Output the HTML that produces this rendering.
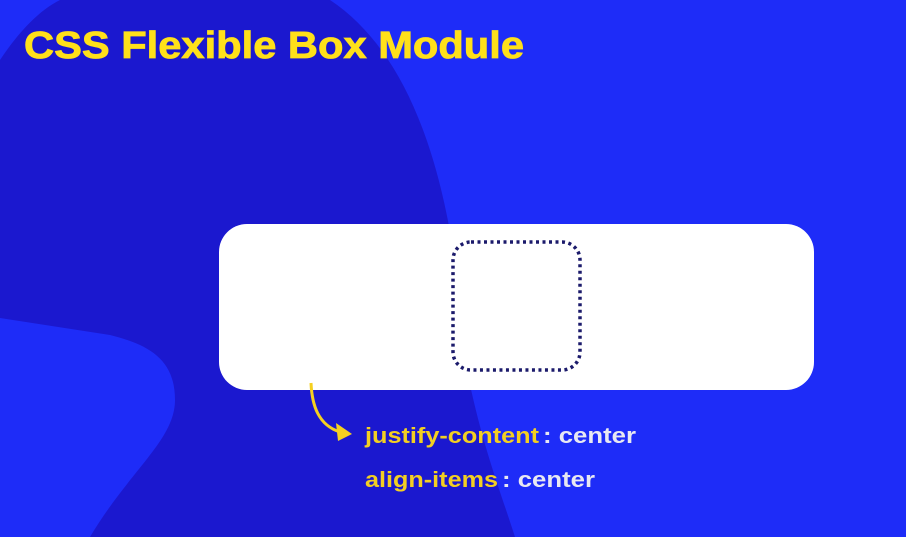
<!DOCTYPE html>
<html><head><style>
html,body{margin:0;padding:0;width:906px;height:537px;overflow:hidden;background:#1e2cf8}
svg{display:block}
text{font-family:"Liberation Sans",sans-serif;font-weight:bold}
</style></head><body>
<svg width="906" height="537" viewBox="0 0 906 537">
<rect width="906" height="537" fill="#1e2cf8"/>
<path d="M60 0 L330 0 C420 60 455 200 465 360 C480 440 500 490 515 537 L90 537 C130 470 175 440 175 400 C175 360 150 345 110 335 L0 318 L0 60 C20 30 40 10 60 0 Z" fill="#1b18cf"/>
<rect x="219" y="224" width="595" height="166" rx="28" fill="#ffffff"/>
<rect x="453" y="242" width="127" height="128" rx="18" fill="none" stroke="#1b1a6b" stroke-width="3.5" stroke-dasharray="3 3.5"/>
<text x="24" y="58" font-size="38" fill="#ffe01a" textLength="500" lengthAdjust="spacingAndGlyphs" stroke="#ffe01a" stroke-width="0.8">CSS Flexible Box Module</text>
<path d="M311 383 C312 405 318 425 340 432" fill="none" stroke="#f5d020" stroke-width="3"/>
<path d="M352 434 L336 423 L338 441 Z" fill="#f5d020"/>
<text x="365" y="443" font-size="22" fill="#f3cf22" textLength="174" lengthAdjust="spacingAndGlyphs">justify-content</text>
<text x="543" y="443" font-size="22" fill="#e8e8f2" textLength="93" lengthAdjust="spacingAndGlyphs">: center</text>
<text x="365" y="487" font-size="22" fill="#f3cf22" textLength="133" lengthAdjust="spacingAndGlyphs">align-items</text>
<text x="502" y="487" font-size="22" fill="#e8e8f2" textLength="93" lengthAdjust="spacingAndGlyphs">: center</text>
</svg>
</body></html>
